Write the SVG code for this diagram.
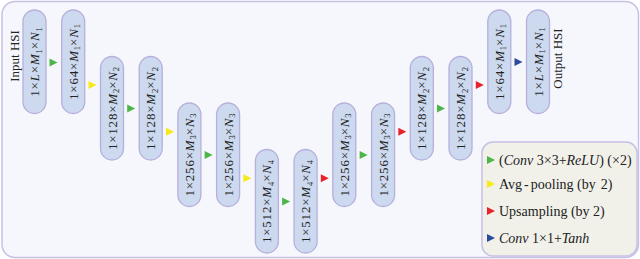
<svg xmlns="http://www.w3.org/2000/svg" width="640" height="259" viewBox="0 0 640 259">
<defs>
<style>
.frame{fill:#f5f7fd;stroke:#c6c1e4;stroke-width:1.5}
.pill{fill:#ccd9ee;stroke:#b6b0dc;stroke-width:1.3}
.lbl{font-family:"Liberation Serif","Times New Roman",serif;font-size:13px;fill:#222;letter-spacing:0.8px}
.io{font-family:"Liberation Serif","Times New Roman",serif;font-size:13px;fill:#222}
.leg{font-family:"Liberation Serif","Times New Roman",serif;font-size:14px;fill:#222}
.it{font-style:italic}
.sub{font-size:8.5px;letter-spacing:0}
.g{fill:#4db548}.y{fill:#f7e81a}.r{fill:#e8222b}.b{fill:#2a4a9e}
.legbox{fill:#f1f1ea;stroke:#c6c1e4;stroke-width:1.5}
</style>
<polygon id="tri" points="-4,-4 4,0 -4,4"/>
</defs>
<rect class="frame" x="2" y="1.5" width="636.5" height="256" rx="13"/>
<g id="io-labels">
<text class="io" transform="translate(14,56) rotate(-90)" text-anchor="middle" y="4.5">Input HSI</text>
<text class="io" transform="translate(557,58.5) rotate(-90)" text-anchor="middle" y="4.5">Output HSI</text>
</g>
<g id="n0"><rect class="pill" x="23" y="10" width="23" height="103.5" rx="11.5"/>
<text class="lbl" transform="translate(34.5,62) rotate(-90)" text-anchor="middle" y="4.5">1×<tspan class="it">L</tspan>×<tspan class="it">M</tspan><tspan class="sub" dy="2.5">1</tspan><tspan dy="-2.5">×</tspan><tspan class="it">N</tspan><tspan class="sub" dy="2.5">1</tspan></text></g>
<g id="n1"><rect class="pill" x="61.7" y="10" width="23" height="103.5" rx="11.5"/>
<text class="lbl" transform="translate(73.2,62) rotate(-90)" text-anchor="middle" y="4.5">1×64×<tspan class="it">M</tspan><tspan class="sub" dy="2.5">1</tspan><tspan dy="-2.5">×</tspan><tspan class="it">N</tspan><tspan class="sub" dy="2.5">1</tspan></text></g>
<g id="n2"><rect class="pill" x="100.5" y="56.5" width="23" height="103.5" rx="11.5"/>
<text class="lbl" transform="translate(112,108.5) rotate(-90)" text-anchor="middle" y="4.5">1×128×<tspan class="it">M</tspan><tspan class="sub" dy="2.5">2</tspan><tspan dy="-2.5">×</tspan><tspan class="it">N</tspan><tspan class="sub" dy="2.5">2</tspan></text></g>
<g id="n3"><rect class="pill" x="139.2" y="56.5" width="23" height="103.5" rx="11.5"/>
<text class="lbl" transform="translate(150.7,108.5) rotate(-90)" text-anchor="middle" y="4.5">1×128×<tspan class="it">M</tspan><tspan class="sub" dy="2.5">2</tspan><tspan dy="-2.5">×</tspan><tspan class="it">N</tspan><tspan class="sub" dy="2.5">2</tspan></text></g>
<g id="n4"><rect class="pill" x="177.9" y="103" width="23" height="103.5" rx="11.5"/>
<text class="lbl" transform="translate(189.4,155) rotate(-90)" text-anchor="middle" y="4.5">1×256×<tspan class="it">M</tspan><tspan class="sub" dy="2.5">3</tspan><tspan dy="-2.5">×</tspan><tspan class="it">N</tspan><tspan class="sub" dy="2.5">3</tspan></text></g>
<g id="n5"><rect class="pill" x="216.6" y="103" width="23" height="103.5" rx="11.5"/>
<text class="lbl" transform="translate(228.1,155) rotate(-90)" text-anchor="middle" y="4.5">1×256×<tspan class="it">M</tspan><tspan class="sub" dy="2.5">3</tspan><tspan dy="-2.5">×</tspan><tspan class="it">N</tspan><tspan class="sub" dy="2.5">3</tspan></text></g>
<g id="n6"><rect class="pill" x="255.4" y="149.5" width="23" height="103.5" rx="11.5"/>
<text class="lbl" transform="translate(266.9,201.5) rotate(-90)" text-anchor="middle" y="4.5">1×512×<tspan class="it">M</tspan><tspan class="sub" dy="2.5">4</tspan><tspan dy="-2.5">×</tspan><tspan class="it">N</tspan><tspan class="sub" dy="2.5">4</tspan></text></g>
<g id="n7"><rect class="pill" x="294.1" y="149.5" width="23" height="103.5" rx="11.5"/>
<text class="lbl" transform="translate(305.6,201.5) rotate(-90)" text-anchor="middle" y="4.5">1×512×<tspan class="it">M</tspan><tspan class="sub" dy="2.5">4</tspan><tspan dy="-2.5">×</tspan><tspan class="it">N</tspan><tspan class="sub" dy="2.5">4</tspan></text></g>
<g id="n8"><rect class="pill" x="332.8" y="103" width="23" height="103.5" rx="11.5"/>
<text class="lbl" transform="translate(344.3,155) rotate(-90)" text-anchor="middle" y="4.5">1×256×<tspan class="it">M</tspan><tspan class="sub" dy="2.5">3</tspan><tspan dy="-2.5">×</tspan><tspan class="it">N</tspan><tspan class="sub" dy="2.5">3</tspan></text></g>
<g id="n9"><rect class="pill" x="371.6" y="103" width="23" height="103.5" rx="11.5"/>
<text class="lbl" transform="translate(383.1,155) rotate(-90)" text-anchor="middle" y="4.5">1×256×<tspan class="it">M</tspan><tspan class="sub" dy="2.5">3</tspan><tspan dy="-2.5">×</tspan><tspan class="it">N</tspan><tspan class="sub" dy="2.5">3</tspan></text></g>
<g id="n10"><rect class="pill" x="410.3" y="56.5" width="23" height="103.5" rx="11.5"/>
<text class="lbl" transform="translate(421.8,108.5) rotate(-90)" text-anchor="middle" y="4.5">1×128×<tspan class="it">M</tspan><tspan class="sub" dy="2.5">2</tspan><tspan dy="-2.5">×</tspan><tspan class="it">N</tspan><tspan class="sub" dy="2.5">2</tspan></text></g>
<g id="n11"><rect class="pill" x="449" y="56.5" width="23" height="103.5" rx="11.5"/>
<text class="lbl" transform="translate(460.5,108.5) rotate(-90)" text-anchor="middle" y="4.5">1×128×<tspan class="it">M</tspan><tspan class="sub" dy="2.5">2</tspan><tspan dy="-2.5">×</tspan><tspan class="it">N</tspan><tspan class="sub" dy="2.5">2</tspan></text></g>
<g id="n12"><rect class="pill" x="487.8" y="10" width="23" height="103.5" rx="11.5"/>
<text class="lbl" transform="translate(499.3,62) rotate(-90)" text-anchor="middle" y="4.5">1×64×<tspan class="it">M</tspan><tspan class="sub" dy="2.5">1</tspan><tspan dy="-2.5">×</tspan><tspan class="it">N</tspan><tspan class="sub" dy="2.5">1</tspan></text></g>
<g id="n13"><rect class="pill" x="526.5" y="10" width="23" height="103.5" rx="11.5"/>
<text class="lbl" transform="translate(538,62) rotate(-90)" text-anchor="middle" y="4.5">1×<tspan class="it">L</tspan>×<tspan class="it">M</tspan><tspan class="sub" dy="2.5">1</tspan><tspan dy="-2.5">×</tspan><tspan class="it">N</tspan><tspan class="sub" dy="2.5">1</tspan></text></g>
<g id="connectors">
<use href="#tri" class="g" x="53.5" y="62.5"/>
<use href="#tri" class="y" x="92.5" y="85"/>
<use href="#tri" class="g" x="131.2" y="108.5"/>
<use href="#tri" class="y" x="170" y="131.8"/>
<use href="#tri" class="g" x="208.6" y="155"/>
<use href="#tri" class="y" x="247.4" y="178.3"/>
<use href="#tri" class="g" x="286.1" y="201.5"/>
<use href="#tri" class="r" x="324.8" y="178.3"/>
<use href="#tri" class="g" x="363.6" y="155"/>
<use href="#tri" class="r" x="402.3" y="131.8"/>
<use href="#tri" class="g" x="441" y="108.5"/>
<use href="#tri" class="r" x="479.8" y="85"/>
<use href="#tri" class="b" x="518.5" y="62"/>
</g>
<g id="legend">
<rect class="legbox" x="482" y="142" width="155" height="114" rx="11"/>
<use href="#tri" class="g" x="491" y="160"/>
<use href="#tri" class="y" x="491" y="184"/>
<use href="#tri" class="r" x="491" y="211"/>
<use href="#tri" class="b" x="491" y="238"/>
<text class="leg" x="499" y="165">(<tspan class="it">Conv</tspan> 3×3+<tspan class="it">ReLU</tspan>) (×2)</text>
<text class="leg" x="499" y="189">Avg<tspan dx="2">-</tspan><tspan dx="2">pooling (by </tspan><tspan dx="1.5">2)</tspan></text>
<text class="leg" x="499" y="216">Upsampling (by 2)</text>
<text class="leg" x="499" y="243"><tspan class="it">Conv</tspan> 1×1+<tspan class="it">Tanh</tspan></text>
</g>
</svg>
